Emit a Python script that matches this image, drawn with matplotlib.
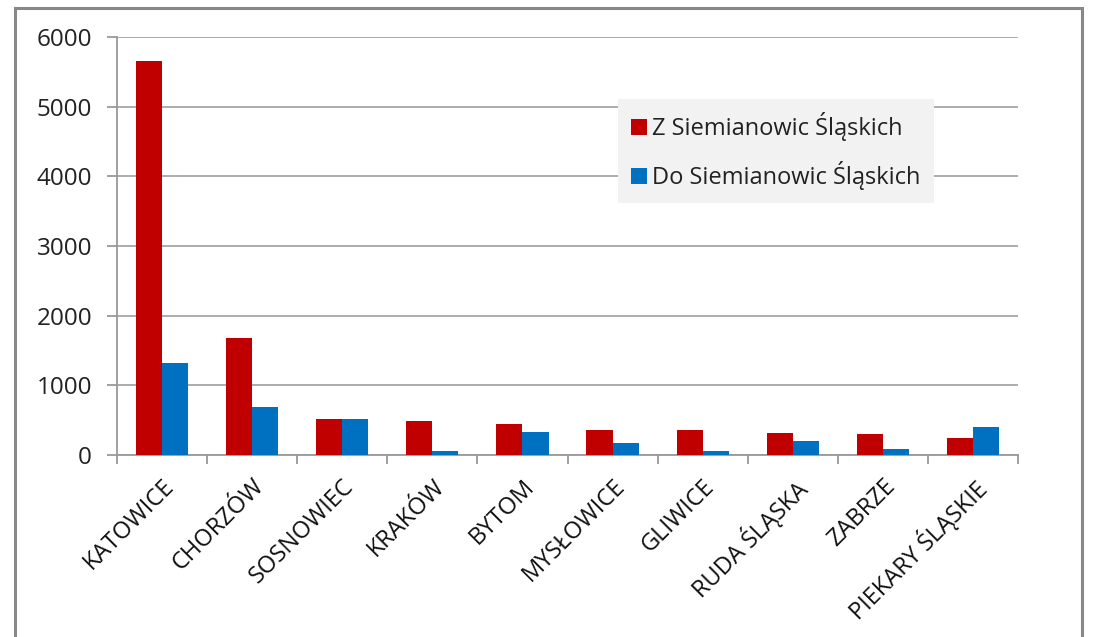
import matplotlib
matplotlib.use("Agg")
import matplotlib.pyplot as plt
import numpy as np
from matplotlib.patches import Rectangle

categories = ["KATOWICE", "CHORZÓW", "SOSNOWIEC", "KRAKÓW", "BYTOM", "MYSŁOWICE",
              "GLIWICE", "RUDA ŚLĄSKA", "ZABRZE", "PIEKARY ŚLĄSKIE"]
z_siemianowic = [5660, 1680, 520, 485, 450, 355, 355, 312, 297, 240]
do_siemianowic = [1317, 694, 520, 62, 330, 177, 62, 197, 82, 407]
series_labels = ["Z Siemianowic Śląskich", "Do Siemianowic Śląskich"]
yticks = [0, 1000, 2000, 3000, 4000, 5000, 6000]

plt.rcParams['font.family'] = ['Open Sans', 'DejaVu Sans']

W, H = 1093, 637
fig = plt.figure(figsize=(W/100, H/100), dpi=100)
ax = fig.add_axes([117/W, 1-455/H, (1018-117)/W, (455-37)/H])

x = np.arange(len(categories))
bw = 0.29
ax.bar(x - bw/2, z_siemianowic, bw, color='#C00000', label=series_labels[0], zorder=3)
ax.bar(x + bw/2, do_siemianowic, bw, color='#0070C0', label=series_labels[1], zorder=3)

ax.set_xlim(-0.5, len(categories)-0.5)
ax.set_ylim(0, 6000)
ax.set_yticks(yticks)
ax.set_yticklabels([str(v) for v in yticks], fontsize=17.5, color='#222222')
ax.yaxis.grid(True, color='#a6a6a6', linewidth=1.3, zorder=0)
ax.set_axisbelow(True)

ax.set_xticks(x)
ax.set_xticklabels(categories, rotation=45, ha='right', rotation_mode='anchor',
                   fontsize=17, color='#111111')
ax.tick_params(axis='x', length=0, pad=14)
ax.set_xticks(np.arange(-0.5, len(categories)), minor=True)
ax.tick_params(axis='x', which='minor', length=6.5, color='#999999', width=1.3)
ax.tick_params(axis='y', length=7, color='#999999', width=1.3, pad=11)

for s in ['top', 'right']:
    ax.spines[s].set_visible(False)
for s in ['left', 'bottom']:
    ax.spines[s].set_color('#999999')
    ax.spines[s].set_linewidth(1.3)

leg = fig.legend(loc='upper left', bbox_to_anchor=(618/W, 1-99/H), fontsize=17,
                 frameon=True, fancybox=False, facecolor='#f2f2f2', edgecolor='none',
                 framealpha=1, handlelength=0.68, handleheight=0.68, handletextpad=0.22,
                 labelspacing=0.85, borderpad=0.55, borderaxespad=0)
for t in leg.get_texts():
    t.set_color('#222222')

fig.patches.append(Rectangle((15/W, -0.1), (1082-15)/W, 1.1 - 8.5/H,
                             transform=fig.transFigure, fill=False,
                             edgecolor='#888888', linewidth=2.2))

fig.savefig('out.png', dpi=100)
